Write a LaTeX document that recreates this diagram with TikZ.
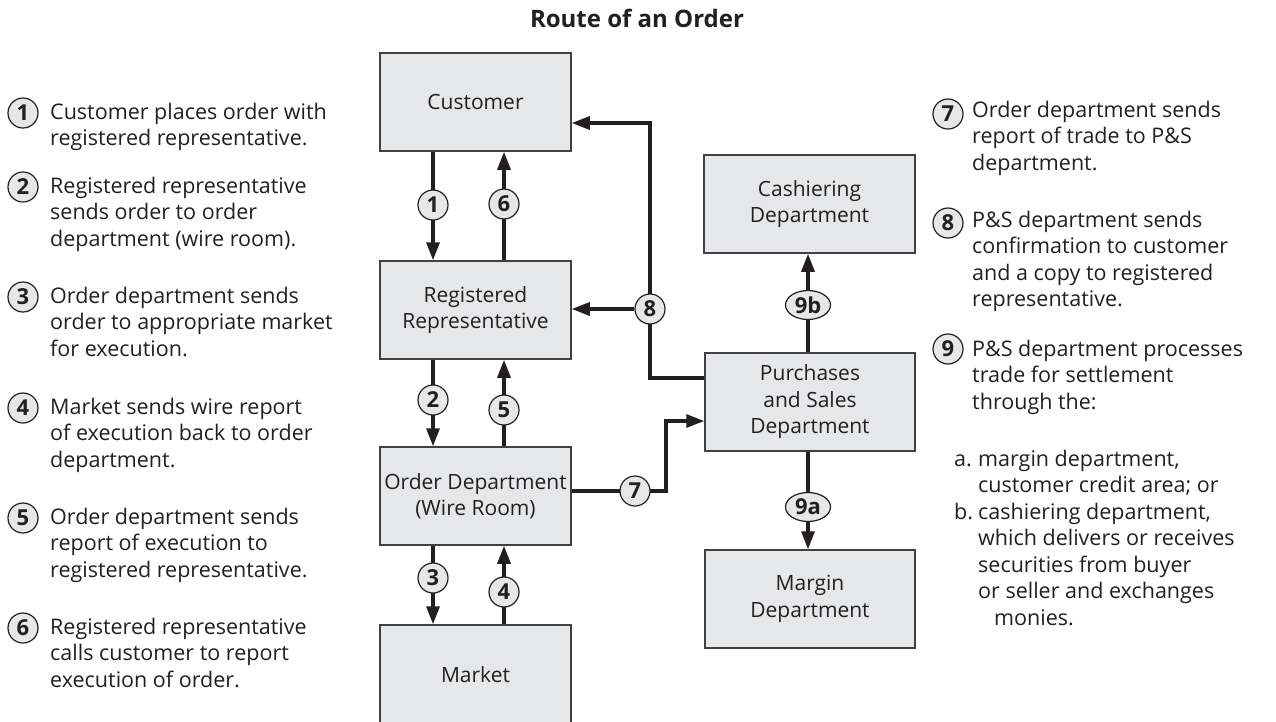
\documentclass[tikz,border=0pt]{standalone}
\usepackage{fontspec}
\setmainfont{Open Sans}
\usetikzlibrary{arrows.meta,shapes.geometric,backgrounds}
\definecolor{ink}{HTML}{231F20}
\definecolor{boxfill}{HTML}{E6E7E8}
\definecolor{edge}{HTML}{414042}
\newcommand{\diagfont}{\fontsize{21.5}{26.5}\selectfont}
\newcommand{\boxfont}{\fontsize{21}{26.5}\selectfont}
\newcommand{\numfont}{\fontsize{22}{22}\selectfont\bfseries}
\newcommand{\headfont}{\fontsize{24}{28}\selectfont\bfseries}

\begin{document}
\begin{tikzpicture}[x=1pt,y=-1pt,
  every node/.style={text=ink},
  block/.style={draw=edge, line width=1.5pt, fill=boxfill, minimum width=191pt,
    minimum height=98pt, inner sep=0pt, align=center, font=\boxfont},
  num/.style={circle, draw=ink, line width=1.2pt, fill=boxfill, minimum size=30pt,
    inner sep=0pt, font=\numfont},
  oval/.style={ellipse, draw=ink, line width=1.2pt, fill=boxfill, minimum width=45pt,
    minimum height=29pt, inner sep=0pt, font=\numfont},
  conn/.style={draw=ink, line width=3.2pt},
  arr/.style={conn, -{Triangle[length=18pt,width=13pt]}},
  item/.style={anchor=base west, align=left, font=\diagfont, inner sep=0pt},
]
\useasboundingbox (0,0) rectangle (1276,721);

% title
\node[font=\headfont, anchor=base] (title) at (637,27) {Route of an Order};

% boxes
\node[block] (cust) at (475.5,102) {Customer};
\node[block] (rr)   at (475.5,310) {Registered\\Representative};
\node[block] (od)   at (475.5,496) {Order Department\\(Wire Room)};
\node[block, minimum height=100pt] (mkt) at (475.5,675) {Market};
\node[block, minimum width=211pt] (cash) at (809.5,204) {Cashiering\\Department};
\node[block, minimum width=210pt] (ps)   at (810,402) {Purchases\\and Sales\\Department};
\node[block, minimum width=210pt] (mrg)  at (810,599) {Margin\\Department};

% step markers on the connectors
\node[num] (n1) at (433,205) {1};
\node[num] (n6) at (504,204) {6};
\node[num] (n2) at (433,400) {2};
\node[num] (n5) at (504,410) {5};
\node[num] (n3) at (433,578) {3};
\node[num] (n4) at (504,592) {4};
\node[num] (n7) at (635,491) {7};
\node[num] (n8) at (650,309) {8};
\node[oval] (n9b) at (808,305) {9b};
\node[oval] (n9a) at (808,507) {9a};

\coordinate (k7a) at (666,491);
\coordinate (k7b) at (666,421);
\coordinate (k8a) at (650,378);
\coordinate (k8b) at (650,123);

\begin{pgfonlayer}{background}
  \draw[arr] (n1 |- cust.south) -- (n1 |- rr.north);
  \draw[arr] (n6 |- rr.north) -- (n6 |- cust.south);
  \draw[arr] (n2 |- rr.south) -- (n2 |- od.north);
  \draw[arr] (n5 |- od.north) -- (n5 |- rr.south);
  \draw[arr] (n3 |- od.south) -- (n3 |- mkt.north);
  \draw[arr] (n4 |- mkt.north) -- (n4 |- od.south);
  \draw[arr] (od.east |- n7) -- (k7a) -- (k7b) -- (k7b -| ps.west);
  \draw[arr] (k8a -| ps.west) -- (k8a) -- (k8b) -- (k8b -| cust.east);
  \draw[arr] (n8) -- (n8 -| rr.east);
  \draw[arr] (n9b |- ps.north) -- (n9b |- cash.south);
  \draw[arr] (n9a |- ps.south) -- (n9a |- mrg.north);
\end{pgfonlayer}

% left column of steps (each text is placed by the baseline of its last line)
\node[num] (m1) at (23,113) {1};
\node[item] (t1) at (50,145.5) {Customer places order with\\registered representative.};
\node[num] (m2) at (23,187) {2};
\node[item] (t2) at (50,246) {Registered representative\\sends order to order\\department (wire room).};
\node[num] (m3) at (23,297) {3};
\node[item] (t3) at (50,356) {Order department sends\\order to appropriate market\\for execution.};
\node[num] (m4) at (23,408) {4};
\node[item] (t4) at (50,467) {Market sends wire report\\of execution back to order\\department.};
\node[num] (m5) at (23,518) {5};
\node[item] (t5) at (50,577) {Order department sends\\report of execution to\\registered representative.};
\node[num] (m6) at (23,628) {6};
\node[item] (t6) at (50,687) {Registered representative\\calls customer to report\\execution of order.};

% right column of steps
\node[num] (m7) at (948,114) {7};
\node[item] (t7) at (972,170) {Order department sends\\report of trade to P\&S\\department.};
\node[num] (m8) at (948,223) {8};
\node[item] (t8) at (972,306.5) {P\&S department sends\\confirmation to customer\\and a copy to registered\\representative.};
\node[num] (m9) at (948,349) {9};
\node[item] (t9) at (972,409) {P\&S department processes\\trade for settlement\\through the:};
\node[item] (t9a) at (954,625) {\makebox[24pt][l]{a.}margin department,\\\hspace*{24pt}customer credit area; or\\
  \makebox[24pt][l]{b.}cashiering department,\\\hspace*{24pt}which delivers or receives\\
  \hspace*{24pt}securities from buyer\\\hspace*{24pt}or seller and exchanges\\\hspace*{40pt}monies.};
\end{tikzpicture}
\end{document}
